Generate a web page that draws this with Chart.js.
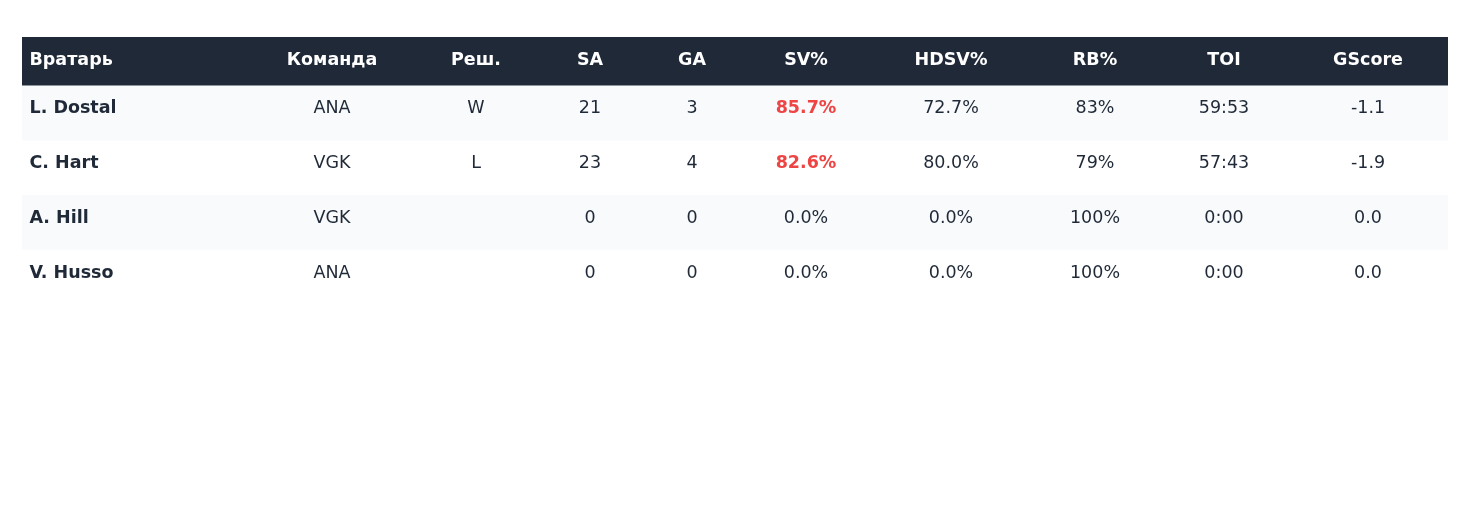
<!DOCTYPE html>
<html>
<head>
<meta charset="utf-8">
<script src="https://cdn.jsdelivr.net/npm/chart.js@4/dist/chart.umd.min.js"></script>
<style>
  html, body { margin: 0; padding: 0; background: #ffffff; }
  #wrap { width: 1470px; height: 526px; }
</style>
</head>
<body>
<div id="wrap"><canvas id="table" width="1470" height="526"></canvas></div>
<script>
const COLUMNS = ['Вратарь', 'Команда', 'Реш.', 'SA', 'GA', 'SV%', 'HDSV%', 'RB%', 'TOI', 'GScore'];
const GOALIES = ['L. Dostal', 'C. Hart', 'A. Hill', 'V. Husso'];
const TEAMS = ['ANA', 'VGK', 'VGK', 'ANA'];
const DECISIONS = ['W', 'L', '', ''];
const SHOTS_AGAINST = [21, 23, 0, 0];
const GOALS_AGAINST = [3, 4, 0, 0];
const SAVE_PCT = [85.7, 82.6, 0, 0];
const HD_SAVE_PCT = [72.7, 80.0, 0, 0];
const REBOUND_PCT = [83, 79, 100, 100];
const TOI = ['59:53', '57:43', '0:00', '0:00'];
const GSCORE = [-1.1, -1.9, 0, 0];

// layout (px) - kept apart from the data
const COL_WIDTHS = [226, 168, 120, 108, 96, 132, 158, 130, 128, 160];
const HEADER_H = 48.7;
const ROW_H = 54.7;
const TABLE_W = COL_WIDTHS.reduce((a, b) => a + b, 0);
const TABLE_H = HEADER_H + ROW_H * GOALIES.length;

const COLORS = {
  header: '#1f2937',
  headerText: '#ffffff',
  stripe: '#f8fafc',
  text: '#1f2937',
  bad: '#ef4444',
};
const FONT = '"DejaVu Sans", Verdana, sans-serif';
const FONT_SIZE = 17.5;

function rowCells(i) {
  const svBad = SHOTS_AGAINST[i] > 0 && SAVE_PCT[i] < 90;
  return [
    { text: GOALIES[i], bold: true },
    { text: TEAMS[i] },
    { text: DECISIONS[i] },
    { text: String(SHOTS_AGAINST[i]) },
    { text: String(GOALS_AGAINST[i]) },
    { text: SAVE_PCT[i].toFixed(1) + '%', bold: svBad, color: svBad ? COLORS.bad : null },
    { text: HD_SAVE_PCT[i].toFixed(1) + '%' },
    { text: REBOUND_PCT[i] + '%' },
    { text: TOI[i] },
    { text: GSCORE[i].toFixed(1) },
  ];
}

const tablePlugin = {
  id: 'tableCells',
  afterDraw(chart) {
    const { ctx, scales: { x, y } } = chart;
    const colEdges = [0];
    COL_WIDTHS.forEach(w => colEdges.push(colEdges[colEdges.length - 1] + w));

    const px = v => x.getPixelForValue(v);
    const py = v => y.getPixelForValue(v);

    ctx.save();

    // header
    ctx.fillStyle = COLORS.header;
    ctx.fillRect(px(0), py(0), px(TABLE_W) - px(0), py(HEADER_H) - py(0));

    // striped rows
    GOALIES.forEach((g, i) => {
      const top = HEADER_H + ROW_H * i;
      if (i % 2 === 0) {
        ctx.fillStyle = COLORS.stripe;
        ctx.fillRect(px(0), py(top), px(TABLE_W) - px(0), py(top + ROW_H) - py(top));
      }
    });

    ctx.textBaseline = 'alphabetic';

    const drawCell = (c, top, cell, isHeader) => {
      if (!cell.text) return;
      const weight = (isHeader || cell.bold) ? 'bold ' : '';
      ctx.font = weight + FONT_SIZE + 'px ' + FONT;
      ctx.fillStyle = isHeader ? COLORS.headerText : (cell.color || COLORS.text);
      const baseline = py(top) + 27.7;
      if (c === 0) {
        ctx.textAlign = 'left';
        ctx.fillText(cell.text, px(colEdges[0]) + 7.5, baseline);
      } else {
        ctx.textAlign = 'center';
        ctx.fillText(cell.text, (px(colEdges[c]) + px(colEdges[c + 1])) / 2, baseline);
      }
    };

    COLUMNS.forEach((name, c) => drawCell(c, 0, { text: name }, true));
    GOALIES.forEach((g, i) => {
      rowCells(i).forEach((cell, c) => drawCell(c, HEADER_H + ROW_H * i, cell, false));
    });

    ctx.restore();
  },
};

new Chart(document.getElementById('table'), {
  type: 'scatter',
  data: { datasets: [{ data: [], pointRadius: 0 }] },
  options: {
    responsive: false,
    animation: false,
    events: [],
    layout: {
      padding: { left: 22, right: 1470 - 22 - TABLE_W, top: 37, bottom: 526 - 37 - TABLE_H },
    },
    scales: {
      x: { type: 'linear', min: 0, max: TABLE_W, display: false },
      y: { type: 'linear', min: 0, max: TABLE_H, reverse: true, display: false },
    },
    plugins: {
      legend: { display: false },
      tooltip: { enabled: false },
    },
  },
  plugins: [tablePlugin],
});
</script>
</body>
</html>
